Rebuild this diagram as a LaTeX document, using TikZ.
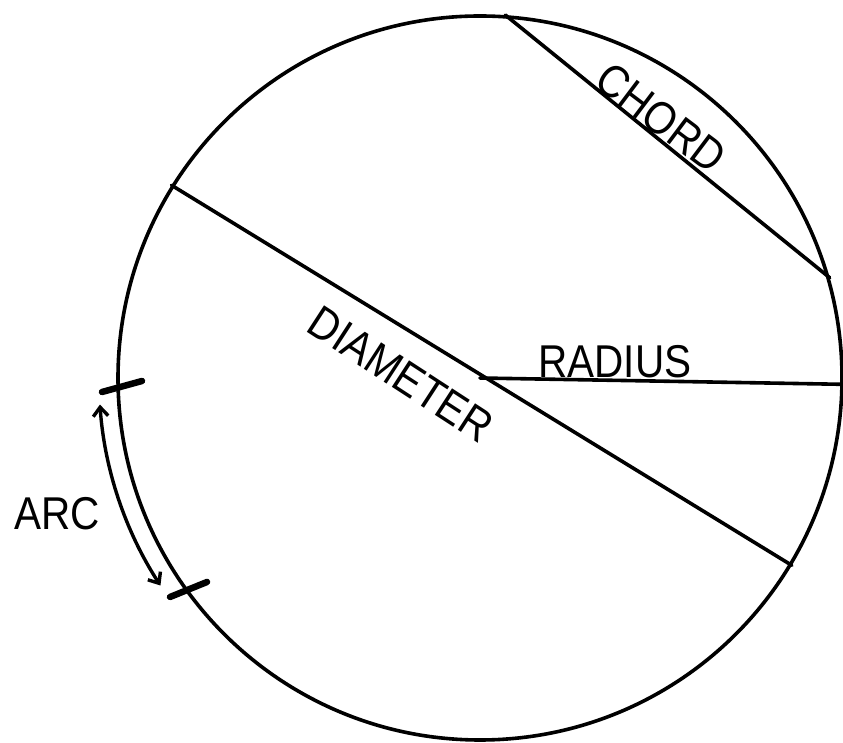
\documentclass[tikz,border=0pt]{standalone}
\usepackage{fontspec}
\setmainfont{Liberation Sans}
\usetikzlibrary{arrows.meta,calc}
\tikzset{
  lbl/.style={inner sep=0pt, font=\fontsize{46}{46}\selectfont},
  stroke/.style={line width=3.6pt, line cap=round},
  tick/.style={line width=6.5pt, line cap=round},
}
\newcommand{\narrow}[1]{\scalebox{0.88}[1]{#1}}
\begin{document}
\begin{tikzpicture}[x=1pt,y=1pt]
\useasboundingbox (0,0) rectangle (843,743);
\node[circle, draw, stroke, minimum size=724pt, inner sep=0pt] (c) at (480,365) {};
% diameter
\draw[stroke] (c.148.5) -- (c.-31.5);
% radius
\draw[stroke] (c.center) -- (c.-1);
% chord
\draw[stroke] (c.86.8) -- (c.16.3);
% labels
\node[lbl, rotate=-37] (chord) at (661,625) {\narrow{CHORD}};
\node[lbl, rotate=-33] (diam) at (401,369) {\narrow{DIAMETER}};
\node[lbl] (rad) at (615,381) {\narrow{RADIUS}};
\node[lbl] (arc) at (57,229) {\narrow{ARC}};
% arc marker
\coordinate (a1) at ($(c.center)+(184:381)$);
\draw[line width=3.4pt, {Straight Barb[length=9pt,width=15pt]}-{Straight Barb[length=9pt,width=15pt]}]
  (a1) arc[start angle=184, end angle=213, radius=381];
\coordinate (t1a) at (102,351);
\coordinate (t1b) at (142,362);
\coordinate (t2a) at (170,146);
\coordinate (t2b) at (207,161);
\draw[tick] (t1a) -- (t1b);
\draw[tick] (t2a) -- (t2b);
\end{tikzpicture}
\end{document}
